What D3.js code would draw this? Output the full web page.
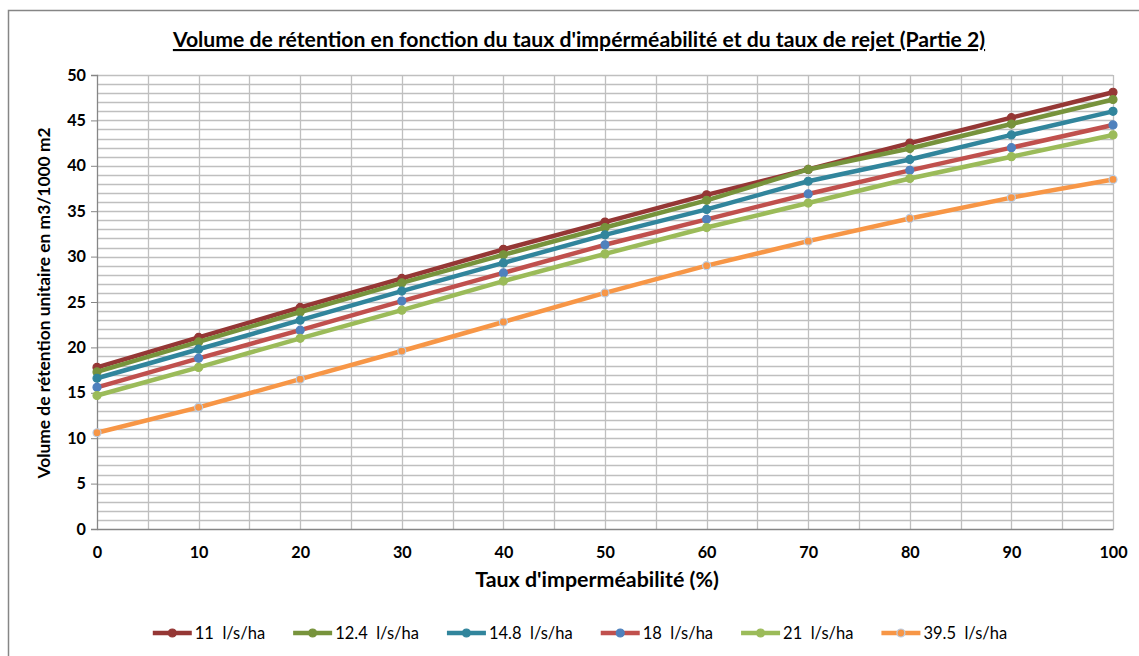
<!DOCTYPE html>
<html lang="fr">
<head>
    <meta charset="UTF-8">
    <title>Volume de rétention</title>
    <script src="https://cdn.jsdelivr.net/npm/d3@7"></script>
    <style>
        body { margin: 0; background: #fff; }
        text { font-family: Lato, "Open Sans", sans-serif; }
    </style>
</head>
<body>
    <div class="container"></div>
    <script>
        // données
        const taux = [0, 10, 20, 30, 40, 50, 60, 70, 80, 90, 100];
        const serieNoms = ["11  l/s/ha", "12.4  l/s/ha", "14.8  l/s/ha", "18  l/s/ha", "21  l/s/ha", "39.5  l/s/ha"];
        const v11   = [17.8, 21.1, 24.4, 27.6, 30.8, 33.8, 36.8, 39.6, 42.5, 45.3, 48.1];
        const v12_4 = [17.3, 20.6, 23.9, 27.1, 30.2, 33.2, 36.2, 39.6, 41.9, 44.6, 47.3];
        const v14_8 = [16.6, 19.8, 23.0, 26.2, 29.3, 32.4, 35.2, 38.3, 40.7, 43.4, 46.0];
        const v18   = [15.6, 18.8, 21.9, 25.1, 28.2, 31.3, 34.1, 36.9, 39.5, 42.0, 44.5];
        const v21   = [14.7, 17.8, 21.0, 24.1, 27.3, 30.3, 33.2, 35.9, 38.6, 41.0, 43.4];
        const v39_5 = [10.6, 13.4, 16.5, 19.6, 22.8, 26.0, 29.0, 31.7, 34.2, 36.5, 38.5];
        const xTicks = [0, 10, 20, 30, 40, 50, 60, 70, 80, 90, 100];
        const yTicks = [0, 5, 10, 15, 20, 25, 30, 35, 40, 45, 50];

        const lineColors = ["#953735", "#77933C", "#31859C", "#C0504D", "#9BBB59", "#F79646"];
        const markColors = ["#953735", "#77933C", "#31859C", "#4F81BD", "#9BBB59", "#F79646"];
        const markStroke = ["#953735", "#77933C", "#31859C", "#4F81BD", "#9BBB59", "#B9CDE5"];

        const series = [v11, v12_4, v14_8, v18, v21, v39_5].map((vals, i) => ({
            nom: serieNoms[i], vals: vals, i: i
        }));

        const width = 1139, height = 656;
        const marginLeft = 97, marginRight = 26, marginTop = 75, marginBottom = 127;

        const x = d3.scaleLinear().domain([0, 100]).range([marginLeft, width - marginRight]);
        const y = d3.scaleLinear().domain([0, 50]).range([height - marginBottom, marginTop]);

        const svg = d3.create("svg")
            .attr("width", width)
            .attr("height", height)
            .attr("viewBox", [0, 0, width, height]);

        // cadre du graphique
        svg.append("rect")
            .attr("x", 8.5).attr("y", 10.5)
            .attr("width", width + 20).attr("height", height + 20)
            .attr("fill", "none").attr("stroke", "#868686").attr("stroke-width", 1.5);

        // quadrillage
        const grid = svg.append("g").attr("stroke", "#bfbfbf").attr("stroke-width", 1.3);
        grid.selectAll("line.h")
            .data(d3.range(1, 51))
            .join("line")
            .attr("x1", x(0)).attr("x2", x(100))
            .attr("y1", d => Math.round(y(d)) + 0.5).attr("y2", d => Math.round(y(d)) + 0.5);
        grid.selectAll("line.v")
            .data(d3.range(5, 101, 5))
            .join("line")
            .attr("class", "v")
            .attr("y1", y(0)).attr("y2", y(50))
            .attr("x1", d => Math.round(x(d)) + 0.5).attr("x2", d => Math.round(x(d)) + 0.5);

        // axe y
        svg.append("g")
            .attr("transform", `translate(${x(0)},0)`)
            .call(d3.axisLeft(y).tickValues(yTicks).tickSize(6).tickPadding(5))
            .call(g => g.select(".domain").attr("stroke", "#868686").attr("stroke-width", 1.3))
            .call(g => g.selectAll(".tick line").attr("stroke", "#868686"))
            .call(g => g.selectAll("text").attr("font-size", 16.2).attr("font-weight", "bold").attr("fill", "#000"));

        // axe x
        svg.append("g")
            .attr("transform", `translate(0,${y(0)})`)
            .call(d3.axisBottom(x).tickValues(xTicks).tickSize(0).tickPadding(17))
            .call(g => g.select(".domain").attr("stroke", "#868686").attr("stroke-width", 1.3))
            .call(g => g.selectAll("text").attr("font-size", 16.2).attr("font-weight", "bold").attr("fill", "#000"));

        // titres
        svg.append("text")
            .attr("x", 579).attr("y", 47)
            .attr("text-anchor", "middle")
            .attr("font-size", 21.2).attr("font-weight", "bold")
            .attr("text-decoration", "underline")
            .text("Volume de rétention en fonction du taux d'impérméabilité et du taux de rejet (Partie 2)");

        svg.append("text")
            .attr("x", 597).attr("y", 587)
            .attr("text-anchor", "middle")
            .attr("font-size", 21.4).attr("font-weight", "bold")
            .text("Taux d'imperméabilité (%)");

        svg.append("text")
            .attr("transform", `translate(44,${(y(0) + y(50)) / 2 + 1}) rotate(-90)`)
            .attr("text-anchor", "middle")
            .attr("dy", "0.35em")
            .attr("font-size", 17.4).attr("font-weight", "bold")
            .text("Volume de rétention unitaire en m3/1000 m2");

        // courbes
        const line = d3.line().x((d, j) => x(taux[j])).y(d => y(d));
        const gs = svg.append("g").selectAll("g").data(series).join("g");
        gs.append("path")
            .attr("d", d => line(d.vals))
            .attr("fill", "none")
            .attr("stroke", d => lineColors[d.i])
            .attr("stroke-width", 4.5)
            .attr("stroke-linejoin", "round");
        gs.selectAll("circle")
            .data(d => d.vals.map((v, j) => ({ v: v, t: taux[j], i: d.i })))
            .join("circle")
            .attr("cx", d => x(d.t)).attr("cy", d => y(d.v))
            .attr("r", 4)
            .attr("fill", d => markColors[d.i])
            .attr("stroke", d => markStroke[d.i])
            .attr("stroke-width", 1.2);

        // légende
        const leg = svg.append("g").attr("transform", "translate(0,633)");
        const items = leg.selectAll("g").data(series).join("g");
        items.append("line")
            .attr("x1", 0).attr("x2", 39)
            .attr("stroke", d => lineColors[d.i]).attr("stroke-width", 4.5);
        items.append("circle")
            .attr("cx", 19.5).attr("r", 4)
            .attr("fill", d => markColors[d.i])
            .attr("stroke", d => markStroke[d.i]).attr("stroke-width", 1.2);
        items.append("text")
            .attr("x", 42).attr("dy", "0.35em")
            .attr("font-size", 16.5)
            .attr("xml:space", "preserve")
            .style("white-space", "pre")
            .text(d => d.nom);

        document.querySelector(".container").appendChild(svg.node());

        // placement des éléments de légende
        const gap = 28;
        let pos = 0;
        const starts = [];
        items.each(function () {
            const w = this.querySelector("text").getComputedTextLength();
            starts.push(pos);
            pos += 42 + w + gap;
        });
        const total = pos - gap;
        const offset = 580 - total / 2;
        items.attr("transform", (d, k) => `translate(${offset + starts[k]},0)`);
    </script>
</body>
</html>
